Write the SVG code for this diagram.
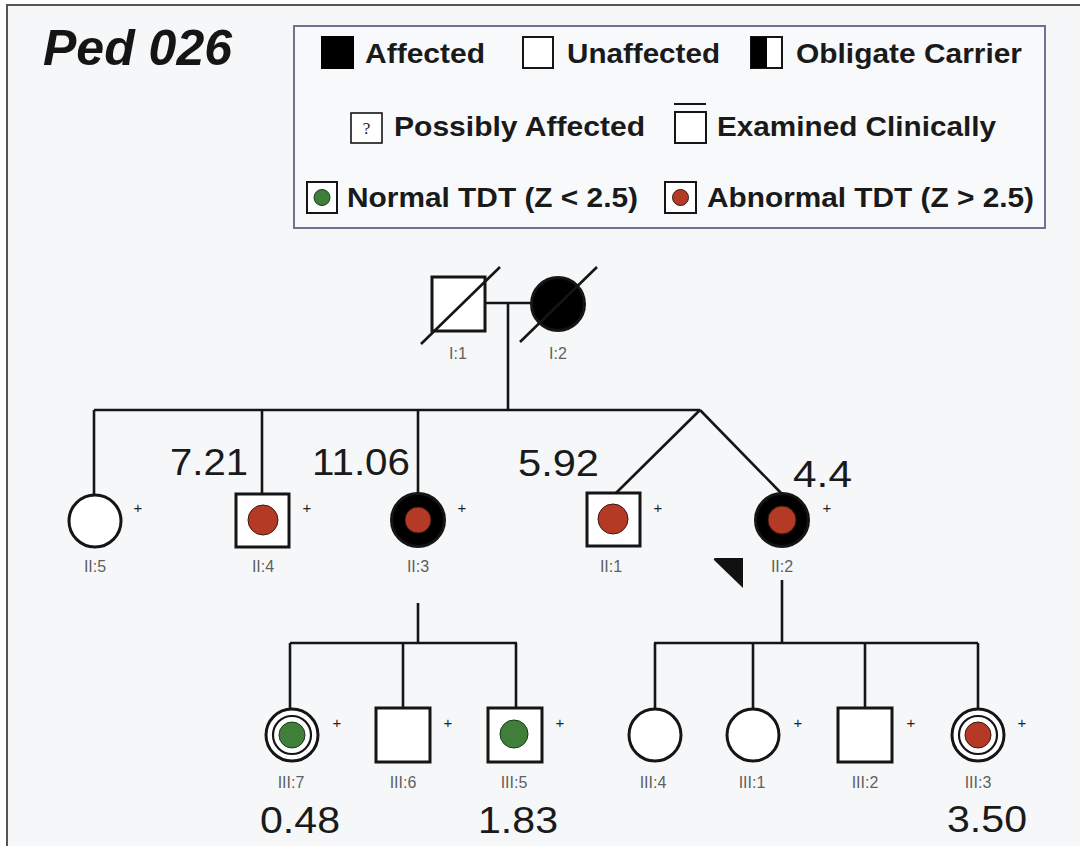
<svg xmlns="http://www.w3.org/2000/svg" width="1080" height="846" viewBox="0 0 1080 846">
<defs>
<style>
.ln{stroke:#151515;stroke-width:2.6;fill:none}
.sym{stroke:#151515;stroke-width:3;fill:#fff}
.aff{stroke:#151515;stroke-width:3;fill:#000}
.red{fill:#b43a26;stroke:#3a1a12;stroke-width:1}
.grn{fill:#3f7f3a;stroke:#1c3a1a;stroke-width:1}
.lab{font-family:"Liberation Sans Narrow","Liberation Sans",Arial,sans-serif;font-size:16px;fill:#5f5f5f;text-anchor:middle}
.plus{font-family:"Liberation Sans",Arial,sans-serif;font-size:15px;fill:#222;text-anchor:middle}
.val{font-family:"Liberation Sans",Arial,sans-serif;font-size:36px;fill:#1a1a1a}
.leg{font-family:"Liberation Sans",Arial,sans-serif;font-size:28px;font-weight:bold;fill:#1a1a1a}
</style>
</defs>
<rect x="0" y="0" width="1080" height="846" fill="#ffffff"/>
<rect x="7" y="5" width="1090" height="860" fill="#f6f7f8" stroke="#444" stroke-width="1.8"/>

<g id="title">
<text x="43" y="65" font-family="Liberation Sans, Arial, sans-serif" font-size="50" font-weight="bold" font-style="italic" fill="#151515">Ped 026</text>
</g>

<g id="legend">
<rect x="294" y="26" width="751" height="202" fill="#f8f9fa" stroke="#6c7590" stroke-width="2"/>
<rect x="322" y="37" width="31" height="31" fill="#000" stroke="#000" stroke-width="2"/>
<text class="leg" x="365" y="63" textLength="120" lengthAdjust="spacingAndGlyphs">Affected</text>
<rect x="523" y="37" width="30" height="31" fill="#fff" stroke="#151515" stroke-width="2"/>
<text class="leg" x="567" y="63" textLength="153" lengthAdjust="spacingAndGlyphs">Unaffected</text>
<rect x="751" y="37" width="31" height="31" fill="#fff" stroke="#151515" stroke-width="2"/>
<rect x="751" y="37" width="16" height="31" fill="#000"/>
<text class="leg" x="796" y="63" textLength="226" lengthAdjust="spacingAndGlyphs">Obligate Carrier</text>
<rect x="351" y="113" width="31" height="30" fill="#fff" stroke="#151515" stroke-width="1.6"/>
<text x="366.5" y="134" font-family="Liberation Serif, serif" font-size="17" fill="#222" text-anchor="middle">?</text>
<text class="leg" x="394" y="136" textLength="251" lengthAdjust="spacingAndGlyphs">Possibly Affected</text>
<line x1="674" y1="104" x2="706" y2="104" stroke="#151515" stroke-width="2"/>
<rect x="675" y="112" width="31" height="31" fill="#fff" stroke="#151515" stroke-width="2"/>
<text class="leg" x="717" y="136" textLength="279" lengthAdjust="spacingAndGlyphs">Examined Clinically</text>
<rect x="307" y="182" width="30" height="31" fill="#fff" stroke="#151515" stroke-width="2"/>
<circle cx="322" cy="197.5" r="8" class="grn"/>
<text class="leg" x="347" y="207" textLength="291" lengthAdjust="spacingAndGlyphs">Normal TDT (Z &lt; 2.5)</text>
<rect x="665" y="182" width="31" height="31" fill="#fff" stroke="#151515" stroke-width="2"/>
<circle cx="680.5" cy="197.5" r="8" class="red"/>
<text class="leg" x="707" y="207" textLength="327" lengthAdjust="spacingAndGlyphs">Abnormal TDT (Z &gt; 2.5)</text>
</g>

<g id="connectors">
<line class="ln" x1="485" y1="303" x2="532" y2="303"/>
<line class="ln" x1="508" y1="303" x2="508" y2="410"/>
<line class="ln" x1="94" y1="410" x2="700" y2="410"/>
<line class="ln" x1="94" y1="410" x2="94" y2="495"/>
<line class="ln" x1="262" y1="410" x2="262" y2="493"/>
<line class="ln" x1="418" y1="410" x2="418" y2="494"/>
<line class="ln" x1="700" y1="410" x2="616" y2="493"/>
<line class="ln" x1="700" y1="410" x2="782" y2="494"/>
<line class="ln" x1="418" y1="603" x2="418" y2="643"/>
<line class="ln" x1="290" y1="643" x2="517" y2="643"/>
<line class="ln" x1="290" y1="643" x2="290" y2="709"/>
<line class="ln" x1="403" y1="643" x2="403" y2="708"/>
<line class="ln" x1="516" y1="643" x2="516" y2="708"/>
<line class="ln" x1="782" y1="580" x2="782" y2="643"/>
<line class="ln" x1="654" y1="643" x2="978" y2="643"/>
<line class="ln" x1="655" y1="643" x2="655" y2="709"/>
<line class="ln" x1="753" y1="643" x2="753" y2="709"/>
<line class="ln" x1="865" y1="643" x2="865" y2="708"/>
<line class="ln" x1="978" y1="643" x2="978" y2="709"/>
</g>

<g id="I1">
<rect class="sym" x="432" y="277" width="53" height="54"/>
<line class="ln" x1="421" y1="344" x2="500" y2="267"/>
<text class="lab" x="458" y="359">I:1</text>
</g>
<g id="I2">
<circle class="aff" cx="558" cy="304" r="26.5"/>
<line class="ln" x1="520" y1="342" x2="597" y2="267"/>
<text class="lab" x="558" y="359">I:2</text>
</g>

<g id="II5">
<circle class="sym" cx="95" cy="521" r="26"/>
<text class="plus" x="138" y="513">+</text>
<text class="lab" x="95" y="572">II:5</text>
</g>
<g id="II4">
<rect class="sym" x="236" y="494" width="53" height="53"/>
<circle class="red" cx="263" cy="520" r="15"/>
<text class="plus" x="307" y="513">+</text>
<text class="lab" x="263" y="572">II:4</text>
<text class="val" x="170" y="475" textLength="78" lengthAdjust="spacingAndGlyphs">7.21</text>
</g>
<g id="II3">
<circle class="aff" cx="418" cy="520" r="26.5"/>
<circle class="red" cx="418" cy="520" r="13"/>
<text class="plus" x="462" y="513">+</text>
<text class="lab" x="418" y="572">II:3</text>
<text class="val" x="312" y="475" textLength="98" lengthAdjust="spacingAndGlyphs">11.06</text>
</g>
<g id="II1">
<rect class="sym" x="587" y="493" width="53" height="53"/>
<circle class="red" cx="613" cy="519" r="15"/>
<text class="plus" x="658" y="513">+</text>
<text class="lab" x="611" y="572">II:1</text>
<text class="val" x="518" y="476" textLength="81" lengthAdjust="spacingAndGlyphs">5.92</text>
</g>
<g id="II2">
<circle class="aff" cx="782" cy="520" r="26.5"/>
<circle class="red" cx="782" cy="520" r="14"/>
<text class="plus" x="827" y="513">+</text>
<text class="lab" x="782" y="572">II:2</text>
<text class="val" x="793" y="487" textLength="59" lengthAdjust="spacingAndGlyphs">4.4</text>
<path d="M714 560 Q713 558 716 558 L743 558 L743 588 Z" fill="#111"/>
</g>

<g id="III7">
<circle class="sym" cx="292" cy="735" r="26"/>
<circle cx="292" cy="735" r="19" fill="none" stroke="#151515" stroke-width="2.2"/>
<circle class="grn" cx="292" cy="735" r="13"/>
<text class="plus" x="337" y="728">+</text>
<text class="lab" x="291" y="788">III:7</text>
<text class="val" x="260" y="833" textLength="80" lengthAdjust="spacingAndGlyphs">0.48</text>
</g>
<g id="III6">
<rect class="sym" x="376" y="708" width="54" height="54"/>
<text class="plus" x="448" y="728">+</text>
<text class="lab" x="403" y="788">III:6</text>
</g>
<g id="III5">
<rect class="sym" x="488" y="708" width="54" height="54"/>
<circle class="grn" cx="514" cy="734" r="14"/>
<text class="plus" x="560" y="728">+</text>
<text class="lab" x="514" y="788">III:5</text>
<text class="val" x="478" y="833" textLength="80" lengthAdjust="spacingAndGlyphs">1.83</text>
</g>
<g id="III4">
<circle class="sym" cx="655" cy="735" r="26"/>
<text class="lab" x="653" y="788">III:4</text>
</g>
<g id="III1">
<circle class="sym" cx="753" cy="735" r="26"/>
<text class="plus" x="798" y="728">+</text>
<text class="lab" x="752" y="788">III:1</text>
</g>
<g id="III2">
<rect class="sym" x="838" y="708" width="54" height="54"/>
<text class="plus" x="911" y="728">+</text>
<text class="lab" x="865" y="788">III:2</text>
</g>
<g id="III3">
<circle class="sym" cx="978" cy="735" r="26"/>
<circle cx="978" cy="735" r="19" fill="none" stroke="#151515" stroke-width="2.2"/>
<circle class="red" cx="978" cy="735" r="13"/>
<text class="plus" x="1022" y="728">+</text>
<text class="lab" x="978" y="788">III:3</text>
<text class="val" x="947" y="832" textLength="80" lengthAdjust="spacingAndGlyphs">3.50</text>
</g>
</svg>
